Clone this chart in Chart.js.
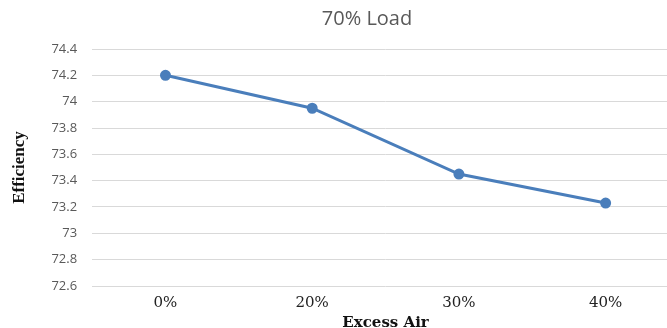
<!DOCTYPE html>
<html>
<head>
<meta charset="utf-8">
<script src="https://cdn.jsdelivr.net/npm/chart.js@4/dist/chart.umd.min.js"></script>
<style>
  html, body { margin: 0; padding: 0; background: #fff; overflow: hidden; }
  #wrap { position: absolute; left: 0; top: 0; width: 686px; height: 334px; }
</style>
</head>
<body>
<div id="wrap"><canvas id="chart_load70" width="686" height="334"></canvas></div>
<script>
// values
var excessAir = ['0%', '20%', '30%', '40%'];
var efficiency = [74.2, 73.95, 73.45, 73.23];
var yMin = 72.6, yMax = 74.4, yStep = 0.2;

var chart_load70 = new Chart(document.getElementById('chart_load70'), {
    type: 'line',
    data: {
        labels: excessAir,
        datasets: [
            {
                label: 'Efficiency',
                data: efficiency,
                borderColor: '#4a7ebb',
                backgroundColor: '#4a7ebb',
                borderWidth: 3,
                pointRadius: 4,
                pointHoverRadius: 4,
                tension: 0
            }
        ]
    },
    options: {
        animation: false,
        responsive: false,
        layout: { padding: { left: 0, right: 2, top: 0, bottom: 0 } },
        plugins: {
            legend: { display: false },
            tooltip: { enabled: false },
            title: {
                display: true,
                text: '70% Load',
                color: '#595959',
                font: { family: 'Open Sans', size: 20, weight: 'normal' },
                padding: { top: 7, bottom: 18 }
            }
        },
        scales: {
            x: {
                offset: true,
                grid: { display: false, drawTicks: false },
                border: { display: false },
                ticks: {
                    color: '#222',
                    padding: 8,
                    font: { family: 'DejaVu Serif', size: 15 }
                },
                title: {
                    display: true,
                    text: 'Excess Air',
                    color: '#111',
                    font: { family: 'DejaVu Serif', size: 15, weight: 'bold' },
                    padding: { top: -6, bottom: 2 }
                }
            },
            y: {
                min: yMin,
                max: yMax,
                grid: { color: '#d9d9d9', lineWidth: 1, drawTicks: false },
                border: { display: false },
                ticks: {
                    stepSize: yStep,
                    color: '#595959',
                    padding: 15,
                    font: { family: 'Open Sans', size: 13 },
                    callback: (v) => String(+v.toFixed(1))
                },
                title: {
                    display: true,
                    text: 'Efficiency',
                    color: '#111',
                    font: { family: 'Liberation Serif', size: 17, weight: 'bold' },
                    padding: { top: 9, bottom: 7 }
                }
            }
        }
    },
    plugins: [{
        id: 'titleShift',
        afterLayout: (chart) => {
            // the original title sits a bit left of the plot centre
            if (chart.titleBlock) {
                chart.titleBlock.left = 48;
                chart.titleBlock.right = 686;
            }
        }
    }, {
        id: 'whiteBg',
        beforeDraw: (chart) => {
            const ctx = chart.canvas.getContext('2d');
            ctx.save();
            ctx.globalCompositeOperation = 'destination-over';
            ctx.fillStyle = 'white';
            ctx.fillRect(0, 0, chart.canvas.width, chart.canvas.height);
            ctx.restore();
        }
    }]
});
</script>
</body>
</html>
